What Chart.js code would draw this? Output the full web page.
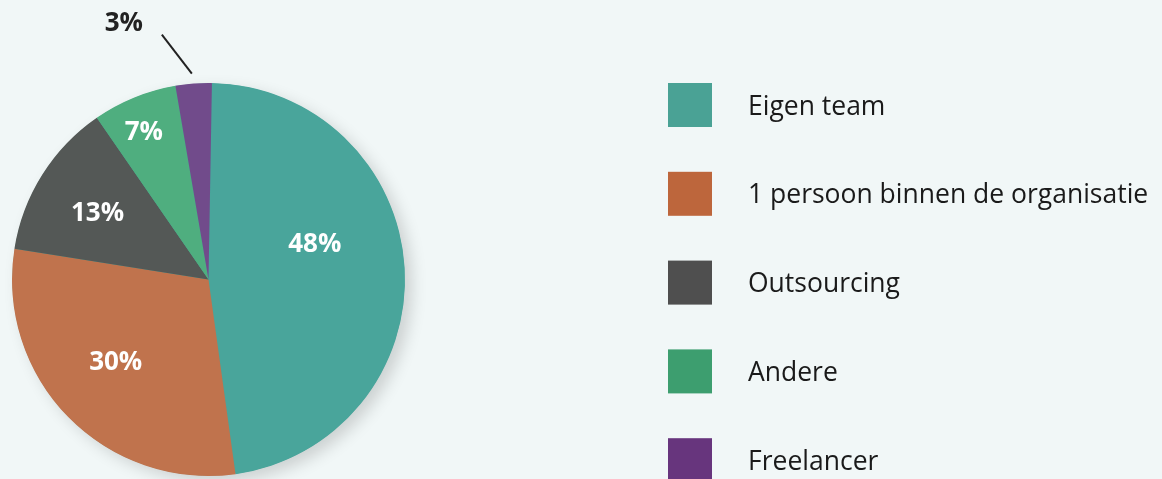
<!DOCTYPE html>
<html>
<head>
<meta charset="utf-8">
<script src="https://cdn.jsdelivr.net/npm/chart.js@4.4.1/dist/chart.umd.min.js"></script>
<style>
  html, body { margin: 0; padding: 0; background: #f1f7f7; }
  #wrap { width: 1162px; height: 479px; position: relative; }
</style>
</head>
<body>
<div id="wrap"><canvas id="c" width="1162" height="479"></canvas></div>
<script>
const categories = ['Eigen team', '1 persoon binnen de organisatie', 'Outsourcing', 'Andere', 'Freelancer'];
const values = [48, 30, 13, 7, 3];
const sliceColors = ['#49a59b', '#c0734d', '#545856', '#4fae7f', '#714b8b'];
const legendColors = ['#4aa295', '#bd663c', '#4f4f4f', '#3d9e6f', '#67357d'];

const shadowPlugin = {
  id: 'pieShadow',
  beforeDatasetsDraw(chart) {
    const meta = chart.getDatasetMeta(0);
    const arc = meta.data[0];
    if (!arc) return;
    const ctx = chart.ctx;
    ctx.save();
    ctx.shadowColor = 'rgba(0,0,0,0.16)';
    ctx.shadowBlur = 16;
    ctx.shadowOffsetX = 7;
    ctx.shadowOffsetY = 6;
    ctx.fillStyle = sliceColors[0];
    ctx.beginPath();
    ctx.arc(arc.x, arc.y, arc.outerRadius - 0.5, 0, Math.PI * 2);
    ctx.fill();
    ctx.restore();
  }
};

const labelPlugin = {
  id: 'sliceLabels',
  afterDatasetsDraw(chart) {
    const ctx = chart.ctx;
    const meta = chart.getDatasetMeta(0);
    const tweaks = [[-15, 0.57], [3, 0.63], [-1, 0.66], [-1.5, 0.82]];
    ctx.save();
    ctx.font = 'bold 26px "Open Sans"';
    ctx.textAlign = 'center';
    ctx.textBaseline = 'middle';
    meta.data.forEach((arc, i) => {
      const mid = (arc.startAngle + arc.endAngle) / 2;
      const r = arc.outerRadius;
      const txt = values[i] + '%';
      if (i < 4) {
        const a = mid + tweaks[i][0] * Math.PI / 180;
        const rr = r * tweaks[i][1];
        ctx.fillStyle = '#ffffff';
        ctx.fillText(txt, arc.x + Math.cos(a) * rr, arc.y + Math.sin(a) * rr + 1);
      } else {
        const px = arc.x + Math.cos(mid) * (r + 10);
        const py = arc.y + Math.sin(mid) * (r + 10);
        ctx.strokeStyle = '#222222';
        ctx.lineWidth = 2;
        ctx.beginPath();
        ctx.moveTo(px - 1, py);
        ctx.lineTo(px - 31, py - 39);
        ctx.stroke();
        ctx.fillStyle = '#222222';
        ctx.fillText(txt, px - 69, py - 50);
      }
    });
    ctx.restore();
  }
};

const legendPlugin = {
  id: 'sideLegend',
  afterDraw(chart) {
    const ctx = chart.ctx;
    ctx.save();
    ctx.font = '26.5px "Open Sans"';
    ctx.textAlign = 'left';
    ctx.textBaseline = 'middle';
    categories.forEach((name, i) => {
      const top = 83 + i * 88.8;
      ctx.fillStyle = legendColors[i];
      ctx.fillRect(668, top, 44, 44);
      ctx.fillStyle = '#1a1a1a';
      ctx.fillText(name, 748, top + 24);
    });
    ctx.restore();
  }
};

new Chart(document.getElementById('c'), {
  type: 'pie',
  data: {
    labels: categories,
    datasets: [{
      data: values,
      backgroundColor: sliceColors,
      borderWidth: 0,
      hoverOffset: 0
    }]
  },
  options: {
    responsive: false,
    animation: false,
    devicePixelRatio: 1,
    rotation: 1.0,
    layout: { padding: { top: 83, bottom: 3, left: 12, right: 757 } },
    plugins: {
      legend: { display: false },
      tooltip: { enabled: false }
    },
    events: []
  },
  plugins: [shadowPlugin, labelPlugin, legendPlugin]
});
</script>
</body>
</html>
